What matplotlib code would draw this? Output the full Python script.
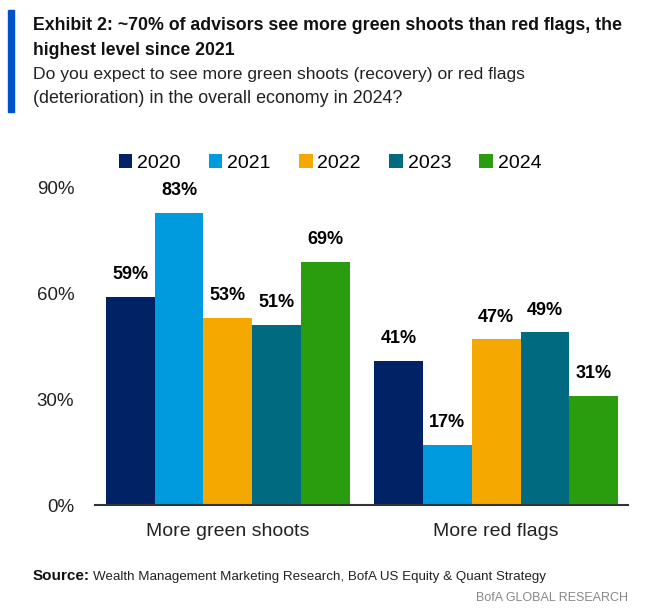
import numpy as np
import matplotlib
matplotlib.use("Agg")
import matplotlib.pyplot as plt
from matplotlib.patches import Rectangle

plt.rcParams['font.family'] = ['Liberation Sans', 'DejaVu Sans']

# Data
categories = ["More green shoots", "More red flags"]
years = ["2020", "2021", "2022", "2023", "2024"]
values = {
    "2020": [59, 41],
    "2021": [83, 17],
    "2022": [53, 47],
    "2023": [51, 49],
    "2024": [69, 31],
}
colors = ["#002366", "#009ADE", "#F4A800", "#006A80", "#2A9D0F"]
yticks = [0, 30, 60, 90]

W, H = 672, 609
fig = plt.figure(figsize=(W / 100, H / 100), dpi=100)
renderer = fig.canvas.get_renderer()


def put_text(x, y, s, width=None, **kw):
    # place text at pixel coords (from top-left); shrink font to fit a width
    t = fig.text(x / W, 1 - y / H, s, va='baseline', **kw)
    if width is not None:
        w = t.get_window_extent(renderer).width
        t.set_fontsize(t.get_fontsize() * width / w)
    return t


ax = fig.add_axes([95 / W, 1 - 505 / H, 533 / W, 317 / H])

group_x = np.array([0, 5.5])
for i, yr in enumerate(years):
    xs = group_x + (i - 2)
    ax.bar(xs, values[yr], width=1.0, color=colors[i], label=yr)
    for x, v in zip(xs, values[yr]):
        ax.annotate(f"{v}%", (x, v), xytext=(0, 10), textcoords='offset points',
                    ha='center', va='bottom', fontsize=13, fontweight='bold',
                    color='black')

ax.set_xlim(-2.72, 8.2)
ax.set_ylim(0, 90)
ax.set_yticks(yticks)
ax.set_yticklabels([f"{t}%" for t in yticks], fontsize=13.5, color='#222222')
ax.tick_params(axis='y', length=0, pad=15)
ax.set_xticks(group_x)
ax.set_xticklabels(categories, fontsize=14, color='#222222')
ax.tick_params(axis='x', length=0, pad=13)
for s in ['top', 'right', 'left']:
    ax.spines[s].set_visible(False)
ax.spines['bottom'].set_color('#333333')
ax.spines['bottom'].set_linewidth(1.5)

ax.legend(loc='center', bbox_to_anchor=(0.441, 1.079), ncol=5,
          frameon=False, fontsize=14, handlelength=0.7, handleheight=0.7,
          handletextpad=0.25, columnspacing=1.45)

# Title block
fig.patches.append(Rectangle((8 / W, 1 - 112 / H), 6 / W, 102 / H,
                             transform=fig.transFigure, color='#0052CC'))
put_text(33, 30, "Exhibit 2: ~70% of advisors see more green shoots than red flags, the",
         width=587, fontsize=14, fontweight='bold', color='#111111')
put_text(33, 55, "highest level since 2021",
         width=201, fontsize=14, fontweight='bold', color='#111111')
put_text(33, 79, "Do you expect to see more green shoots (recovery) or red flags",
         width=489, fontsize=13, color='#222222')
put_text(33, 103, "(deterioration) in the overall economy in 2024?",
         width=368, fontsize=13, color='#222222')

# Footer
src = put_text(33, 580, "Source:", fontsize=11, fontweight='bold', color='#111111')
x_end = src.get_window_extent(renderer).x1
put_text(x_end + 3, 580,
         "Wealth Management Marketing Research, BofA US Equity & Quant Strategy",
         width=546 - x_end - 3, fontsize=11, color='#222222')
put_text(628, 601, "BofA GLOBAL RESEARCH", width=152, fontsize=11, ha='right',
         color='#888888')

fig.savefig("out.png", dpi=100)
